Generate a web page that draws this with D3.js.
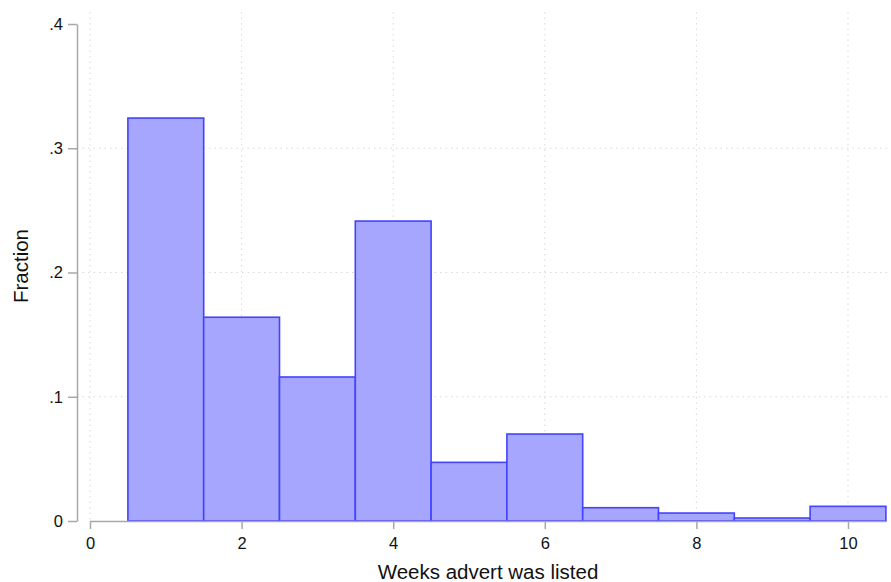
<!DOCTYPE html>
<html>
<head>
<meta charset="utf-8">
<script src="https://cdn.jsdelivr.net/npm/d3@7"></script>
<style>
  body { margin: 0; background: #fff; }
  svg { display: block; font-family: "Liberation Sans", Arial, sans-serif; }
</style>
</head>
<body>
<div id="chart"></div>
<script>
// histogram bins (week centres) and the fraction in each
const weeks = [1, 2, 3, 4, 5, 6, 7, 8, 9, 10];
const fraction = [0.3243, 0.164, 0.1159, 0.2414, 0.0472, 0.070, 0.0107, 0.0064, 0.0024, 0.0118];
const xTicks = [0, 2, 4, 6, 8, 10];
const yTicks = [0, 0.1, 0.2, 0.3, 0.4];
const yTickLabels = ['0', '.1', '.2', '.3', '.4'];

var width = 891, height = 582;

var svg = d3.select('#chart')
    .append('svg')
    .attr('width', width)
    .attr('height', height);

const xScale = d3.scaleLinear()
    .domain([0, 10])
    .range([90, 848]);

const yScale = d3.scaleLinear()
    .domain([0, 0.4])
    .range([521, 24]);

const axisX = 77, axisY = 521;

// grid lines (dotted)
svg.append('g')
    .selectAll('line')
    .data(xTicks)
    .join('line')
    .attr('x1', d => xScale(d)).attr('x2', d => xScale(d))
    .attr('y1', 12).attr('y2', axisY)
    .attr('stroke', '#d9d9d9')
    .attr('stroke-dasharray', '1.5,4');

svg.append('g')
    .selectAll('line')
    .data(yTicks.filter(d => d > 0 && d < 0.4))
    .join('line')
    .attr('x1', axisX).attr('x2', 889)
    .attr('y1', d => yScale(d)).attr('y2', d => yScale(d))
    .attr('stroke', '#d9d9d9')
    .attr('stroke-dasharray', '1.5,4');

// bars
svg.append('g')
    .selectAll('rect')
    .data(weeks)
    .join('rect')
    .attr('x', (d) => xScale(d - 0.5))
    .attr('width', (d) => xScale(d + 0.5) - xScale(d - 0.5))
    .attr('y', (d, i) => yScale(fraction[i]))
    .attr('height', (d, i) => yScale(0) - yScale(fraction[i]))
    .attr('fill', '#a6a6ff')
    .attr('stroke', '#4343ff')
    .attr('stroke-width', 1.6);

// y axis
const yAxis = d3.axisLeft(yScale)
    .tickValues(yTicks)
    .tickFormat((d, i) => yTickLabels[i])
    .tickSize(9)
    .tickPadding(5)
    .tickSizeOuter(0);

const gy = svg.append('g')
    .attr('transform', `translate(${axisX},0)`)
    .call(yAxis);

// x axis
const xAxis = d3.axisBottom(xScale)
    .tickValues(xTicks)
    .tickSize(8)
    .tickPadding(8)
    .tickSizeOuter(0);

const gx = svg.append('g')
    .attr('transform', `translate(0,${axisY})`)
    .call(xAxis);

gx.select('.domain').attr('d', `M${xScale(0)},0.5H${xScale(10.5)}`);

[gx, gy].forEach(g => {
    g.select('.domain').attr('stroke', '#a8a8a8').attr('stroke-width', 1.5);
    g.selectAll('.tick line').attr('stroke', '#a8a8a8').attr('stroke-width', 1.5);
    g.selectAll('.tick text')
        .attr('fill', '#111')
        .style('font-size', '16.5px')
        .style('font-family', '"Liberation Sans", Arial, sans-serif');
});

// axis titles
svg.append('text')
    .attr('x', 488)
    .attr('y', 579)
    .attr('text-anchor', 'middle')
    .style('font-size', '20.5px')
    .attr('fill', '#111')
    .text('Weeks advert was listed');

svg.append('text')
    .attr('transform', `translate(28,266) rotate(-90)`)
    .attr('text-anchor', 'middle')
    .style('font-size', '20.5px')
    .attr('fill', '#111')
    .text('Fraction');
</script>
</body>
</html>
